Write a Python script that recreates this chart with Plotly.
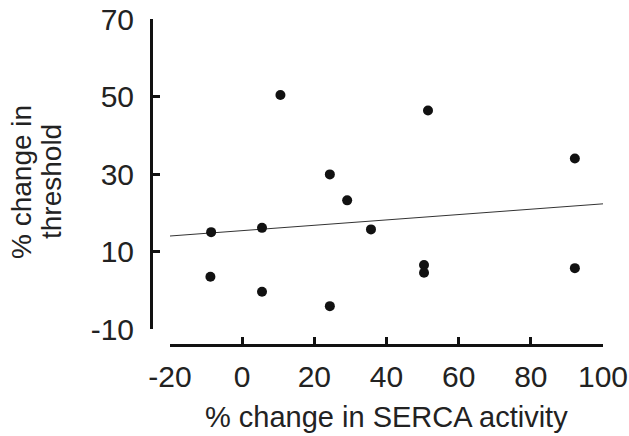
import plotly.graph_objects as go

serca_change = [10.6, -8.6, 5.5, -8.8, 5.5, 24.3, 29.1, 51.5, 92.2, 35.7, 50.4, 50.4, 92.2, 24.3]
threshold_change = [50.4, 15.0, 16.1, 3.5, -0.4, 29.9, 23.2, 46.4, 34.0, 15.7, 6.5, 4.5, 5.7, -4.1]

fit_x = [-20, 100]
fit_y = [14.0, 22.3]

x_ticks = [-20, 0, 20, 40, 60, 80, 100]
y_ticks = [-10, 10, 30, 50, 70]

y_title_lines = ["% change in", "threshold"]
x_title = "% change in SERCA activity"

FONT = "Liberation Sans, Arial, sans-serif"

fig = go.Figure()
fig.add_trace(go.Scatter(x=fit_x, y=fit_y, mode="lines",
                         line=dict(color="#333333", width=1), showlegend=False,
                         hoverinfo="skip"))
fig.add_trace(go.Scatter(x=serca_change, y=threshold_change, mode="markers",
                         marker=dict(color="#111111", size=10), showlegend=False))

W, H = 629, 436
ml, mr, mt, mb = 151, 26, 19, 91
pw, ph = W - ml - mr, H - mt - mb


def px_to_paper(wx, wy):
    """window pixel -> paper fraction"""
    return (wx - ml) / pw, ((H - wy) - mb) / ph


ax1, ay1 = px_to_paper(386, 417)
ly1x, ly1y = px_to_paper(21, 182)
ly2x, ly2y = px_to_paper(51, 182)

fig.update_layout(
    width=W, height=H,
    margin=dict(l=ml, r=mr, t=mt, b=mb, autoexpand=False),
    paper_bgcolor="white", plot_bgcolor="white",
    font=dict(family=FONT, size=30, color="#222222"),
    xaxis=dict(domain=[(170 - 151) / pw, 1], range=[-20, 100],
               tickvals=x_ticks, ticktext=[str(v) for v in x_ticks],
               showline=True, linecolor="#111111", linewidth=3,
               ticks="inside", ticklen=7, tickwidth=3, tickcolor="#111111",
               showgrid=False, zeroline=False, anchor="free", position=0,
               ticklabelstandoff=4, automargin=False, ticklabeloverflow="allow"),
    yaxis=dict(domain=[(345 - 329) / ph, 1], range=[-10, 70],
               tickvals=y_ticks, ticktext=[str(v) for v in y_ticks],
               showline=True, linecolor="#111111", linewidth=3,
               ticks="inside", ticklen=7, tickwidth=3, tickcolor="#111111",
               showgrid=False, zeroline=False, anchor="free", position=0,
               ticklabelstandoff=10, automargin=False, ticklabeloverflow="allow"),
    annotations=[
        dict(text=x_title, x=ax1, y=ay1, xref="paper", yref="paper",
             xanchor="center", yanchor="middle", showarrow=False, font=dict(size=29)),
        dict(text=y_title_lines[0], x=ly1x, y=ly1y, xref="paper", yref="paper",
             xanchor="center", yanchor="middle", showarrow=False, textangle=-90,
             borderpad=0, font=dict(size=28)),
        dict(text=y_title_lines[1], x=ly2x, y=ly2y, xref="paper", yref="paper",
             xanchor="center", yanchor="middle", showarrow=False, textangle=-90,
             borderpad=0, font=dict(size=28)),
    ],
)

# remove the default page margin so the figure fills the window exactly
fig.write_html("out.html",
               config={"displayModeBar": False},
               post_script="document.body.style.margin='0';document.body.style.overflow='hidden';")
